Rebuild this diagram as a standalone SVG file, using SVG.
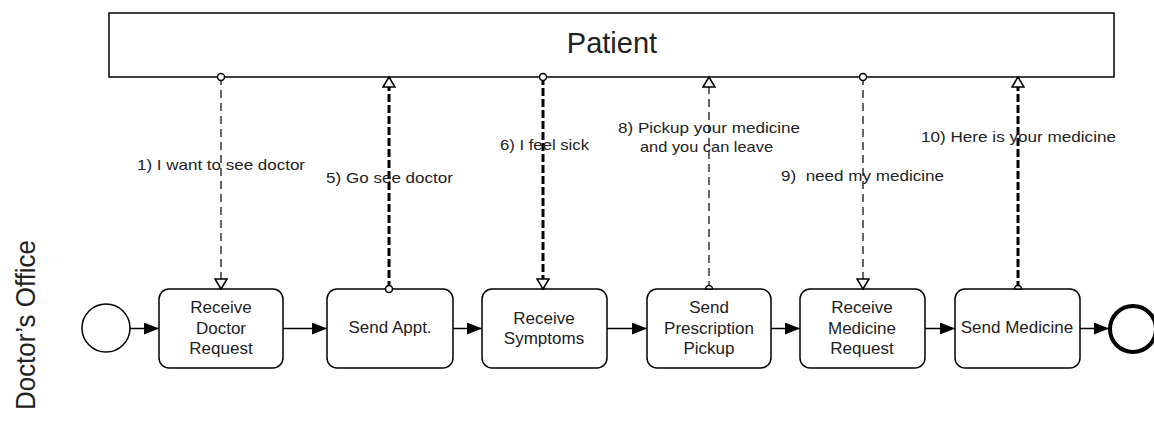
<svg xmlns="http://www.w3.org/2000/svg" width="1154" height="430" viewBox="0 0 1154 430">
<style>
.pool{fill:#fff;stroke:#000;stroke-width:1.5}
.task{fill:#fff;stroke:#000;stroke-width:1.5}
.start{fill:#fff;stroke:#000;stroke-width:1.5}
.end{fill:#fff;stroke:#000;stroke-width:4}
.lbl{font-family:"Liberation Sans",Arial,sans-serif;fill:#222}
.tl{font-size:17px;text-anchor:middle}
.ml{font-size:15px}
.seq{fill:none;stroke:#000;stroke-width:1.5;marker-end:url(#seqArrow)}
.msg{fill:none;stroke:#000;stroke-width:1.2;stroke-dasharray:8 5;marker-end:url(#msgArrow)}
.msg.thick{stroke-width:3;stroke-dasharray:8 3}
</style>
<defs>
<marker id="seqArrow" viewBox="0 0 15 12" refX="15" refY="6" markerWidth="15" markerHeight="12" markerUnits="userSpaceOnUse" orient="auto">
<path d="M0,0 L15,6 L0,12 z" fill="#000" stroke="none"/>
</marker>
<marker id="msgArrow" viewBox="-1 -1 13 14" refX="10" refY="6" markerWidth="13" markerHeight="14" markerUnits="userSpaceOnUse" orient="auto">
<path d="M0,0 L10,6 L0,12 z" fill="#fff" stroke="#000" stroke-width="1.5" stroke-dasharray="none"/>
</marker>
<marker id="msgSrc" viewBox="-5 -5 10 10" refX="0" refY="0" markerWidth="10" markerHeight="10" markerUnits="userSpaceOnUse">
<circle r="3.5" fill="#fff" stroke="#000" stroke-width="1.5" stroke-dasharray="none"/>
</marker>
<marker id="msgSrcHalf" viewBox="-5 -5 10 10" refX="0" refY="0" markerWidth="10" markerHeight="10" markerUnits="userSpaceOnUse">
<path d="M-3.5,0 A3.5,3.5 0 0 1 3.5,0 z" fill="#fff" stroke="#000" stroke-width="1.5" stroke-dasharray="none"/>
</marker>
</defs>

<g id="patient">
<rect class="pool" x="109" y="13" width="1005" height="64"/>
<text class="lbl" x="612" y="53" font-size="29" text-anchor="middle">Patient</text>
</g>

<g id="doctors-office">
<text class="lbl" transform="translate(35,325) rotate(-90)" font-size="27" text-anchor="middle" textLength="170" lengthAdjust="spacingAndGlyphs">Doctor’s Office</text>
</g>

<g id="start-event"><circle class="start" cx="106" cy="328" r="24"/></g>

<g id="task-receive-doctor-request">
<rect class="task" x="159" y="289" width="124" height="79" rx="10"/>
<text class="lbl tl" x="221" y="313">Receive</text>
<text class="lbl tl" x="221" y="334">Doctor</text>
<text class="lbl tl" x="221" y="354">Request</text>
</g>

<g id="task-send-appt">
<rect class="task" x="327" y="289" width="126" height="79" rx="10"/>
<text class="lbl tl" x="390" y="333">Send Appt.</text>
</g>

<g id="task-receive-symptoms">
<rect class="task" x="482" y="289" width="125" height="79" rx="10"/>
<text class="lbl tl" x="544" y="324">Receive</text>
<text class="lbl tl" x="544" y="344">Symptoms</text>
</g>

<g id="task-send-prescription-pickup">
<rect class="task" x="647" y="289" width="124" height="79" rx="10"/>
<text class="lbl tl" x="709" y="313">Send</text>
<text class="lbl tl" x="709" y="334">Prescription</text>
<text class="lbl tl" x="709" y="354">Pickup</text>
</g>

<g id="task-receive-medicine-request">
<rect class="task" x="800" y="289" width="125" height="79" rx="10"/>
<text class="lbl tl" x="862" y="313">Receive</text>
<text class="lbl tl" x="862" y="334">Medicine</text>
<text class="lbl tl" x="862" y="354">Request</text>
</g>

<g id="task-send-medicine">
<rect class="task" x="955" y="289" width="125" height="79" rx="10"/>
<text class="lbl tl" x="1017" y="333">Send Medicine</text>
</g>

<g id="end-event"><circle class="end" cx="1133" cy="329" r="23"/></g>

<g id="connectors">
<path class="seq" d="M130,328.5 H159"/>
<path class="seq" d="M283,328.5 H327"/>
<path class="seq" d="M453,328.5 H482"/>
<path class="seq" d="M607,328.5 H647"/>
<path class="seq" d="M771,328.5 H800"/>
<path class="seq" d="M925,328.5 H955"/>
<path class="seq" d="M1080,328.5 H1109"/>

<path class="msg" d="M221,77 V289" marker-start="url(#msgSrc)"/>
<path class="msg thick" d="M389,289 V77" marker-start="url(#msgSrc)"/>
<path class="msg thick" d="M543,77 V289" marker-start="url(#msgSrc)"/>
<path class="msg" d="M709,289 V77" marker-start="url(#msgSrcHalf)"/>
<path class="msg" d="M863,77 V289" marker-start="url(#msgSrc)"/>
<path class="msg thick" d="M1018,289 V77" marker-start="url(#msgSrcHalf)"/>

<text class="lbl ml" x="137" y="170" textLength="168" lengthAdjust="spacingAndGlyphs">1) I want to see doctor</text>
<text class="lbl ml" x="326" y="183" textLength="127" lengthAdjust="spacingAndGlyphs">5) Go see doctor</text>
<text class="lbl ml" x="500" y="150" textLength="89" lengthAdjust="spacingAndGlyphs">6) I feel sick</text>
<text class="lbl ml" x="618" y="133" textLength="182" lengthAdjust="spacingAndGlyphs">8) Pickup your medicine</text>
<text class="lbl ml" x="640" y="152" textLength="133" lengthAdjust="spacingAndGlyphs">and you can leave</text>
<text class="lbl ml" x="781" y="181" textLength="163" lengthAdjust="spacingAndGlyphs" xml:space="preserve">9)  need my medicine</text>
<text class="lbl ml" x="921" y="142" textLength="195" lengthAdjust="spacingAndGlyphs">10) Here is your medicine</text>
</g>
</svg>
